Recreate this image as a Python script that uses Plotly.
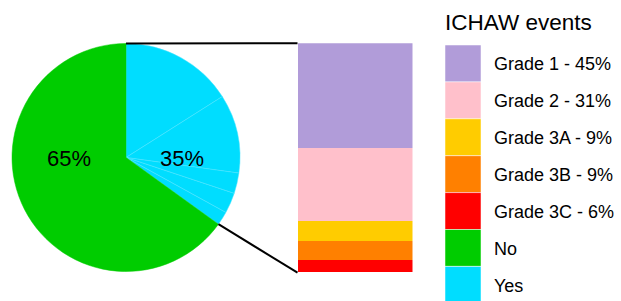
import math
import plotly.graph_objects as go

W, H = 621, 301

# ---- data ----
grade_labels = ["Grade 1", "Grade 2", "Grade 3A", "Grade 3B", "Grade 3C"]
grade_counts = [33, 23, 6, 6, 4]
grade_pct_text = ["45%", "31%", "9%", "9%", "6%"]
grade_colors = ["#B19CD9", "#FFC0CB", "#FFCC00", "#FF8000", "#FF0000"]

event_labels = ["No", "Yes"]
event_counts = [134, 72]
event_pct_text = ["65%", "35%"]
event_colors = ["#00CC00", "#00DDFF"]

legend_title = "ICHAW events"
FONT = "Liberation Sans, Arial, sans-serif"

def px_x(x):
    return x / W

def px_y(y):
    return 1 - y / H

# ---- geometry (pixels) ----
pie_box = (12, 43, 240, 272)      # left, top, right, bottom
bar_box = (297.5, 43.3, 412.5, 272.7)

fig = go.Figure()

# Pie: "Yes" split into grade sub-slices (all cyan), then "No"
pie_values = grade_counts + [event_counts[0]]
pie_labels = grade_labels + [event_labels[0]]
pie_colors = [event_colors[1]] * len(grade_counts) + [event_colors[0]]
pie_line_colors = ["#4FE5FF"] * len(grade_counts) + [event_colors[0]]

fig.add_trace(go.Pie(
    values=pie_values, labels=pie_labels,
    marker=dict(colors=pie_colors, line=dict(color=pie_line_colors, width=0.5)),
    sort=False, direction="clockwise", rotation=0,
    textinfo="none", hoverinfo="label+value", showlegend=False,
    domain=dict(x=[px_x(pie_box[0]), px_x(pie_box[2])],
                y=[px_y(pie_box[3]), px_y(pie_box[1])]),
))

# Stacked bar (bottom-up: Grade 3C ... Grade 1)
for lab, val, col in list(zip(grade_labels, grade_counts, grade_colors))[::-1]:
    fig.add_trace(go.Bar(
        x=[0], y=[val], name=lab, marker=dict(color=col, line=dict(width=0)),
        showlegend=False, hoverinfo="name+y",
    ))

total_yes = sum(grade_counts)
fig.update_layout(
    barmode="stack", bargap=0,
    xaxis=dict(domain=[px_x(bar_box[0]), px_x(bar_box[2])], range=[-0.5, 0.5],
               visible=False, fixedrange=True),
    yaxis=dict(domain=[px_y(bar_box[3]), px_y(bar_box[1])], range=[0, total_yes],
               visible=False, fixedrange=True),
)

# pie geometry
cx = (pie_box[0] + pie_box[2]) / 2
cy = (pie_box[1] + pie_box[3]) / 2
r = min(pie_box[2] - pie_box[0], pie_box[3] - pie_box[1]) / 2
yes_frac = event_counts[1] / sum(event_counts)
theta = 2 * math.pi * yes_frac
ex = cx + r * math.sin(theta)
ey = cy - r * math.cos(theta)

shapes = []
annotations = []
# connector lines
shapes.append(dict(type="line", xref="paper", yref="paper",
                   x0=px_x(cx), y0=px_y(cy - r), x1=px_x(bar_box[0]), y1=px_y(bar_box[1]),
                   line=dict(color="black", width=2)))
shapes.append(dict(type="line", xref="paper", yref="paper",
                   x0=px_x(ex), y0=px_y(ey), x1=px_x(bar_box[0]), y1=px_y(bar_box[3]),
                   line=dict(color="black", width=2)))

# pie percentage labels
annotations.append(dict(x=px_x(cx - 0.5 * r), y=px_y(cy + 1), xref="paper", yref="paper",
                        text=event_pct_text[0], showarrow=False, xanchor="center", yanchor="middle",
                        font=dict(family=FONT, size=22, color="black")))
annotations.append(dict(x=px_x(cx + 0.495 * r), y=px_y(cy + 1), xref="paper", yref="paper",
                        text=event_pct_text[1], showarrow=False, xanchor="center", yanchor="middle",
                        font=dict(family=FONT, size=22, color="black")))

# manual legend
leg_x0, leg_x1 = 445, 481
leg_top, row_h = 45, 36.9
legend_items = [f"{l} - {p}" for l, p in zip(grade_labels, grade_pct_text)] + event_labels
legend_colors = grade_colors + event_colors
annotations.append(dict(x=px_x(443), y=px_y(23), xref="paper", yref="paper",
                        text=legend_title, showarrow=False, xanchor="left", yanchor="middle",
                        font=dict(family=FONT, size=22.5, color="black")))
for i, (txt, col) in enumerate(zip(legend_items, legend_colors)):
    y0 = leg_top + i * row_h
    y1 = y0 + row_h
    shapes.append(dict(type="rect", xref="paper", yref="paper",
                       x0=px_x(leg_x0), x1=px_x(leg_x1), y0=px_y(y1), y1=px_y(y0),
                       fillcolor=col, line=dict(color="rgba(255,255,255,0.5)", width=1),
                       layer="above"))
    annotations.append(dict(x=px_x(492), y=px_y((y0 + y1) / 2 + 1), xref="paper", yref="paper",
                            text=txt, showarrow=False, xanchor="left", yanchor="middle",
                            font=dict(family=FONT, size=18, color="black")))

fig.update_layout(
    width=W, height=H,
    margin=dict(l=0, r=0, t=0, b=0),
    paper_bgcolor="white", plot_bgcolor="white",
    shapes=shapes, annotations=annotations,
    showlegend=False,
)

fig.write_html("out.html", config={"displayModeBar": False},
               post_script="document.body.style.margin='0';document.body.style.overflow='hidden';")
